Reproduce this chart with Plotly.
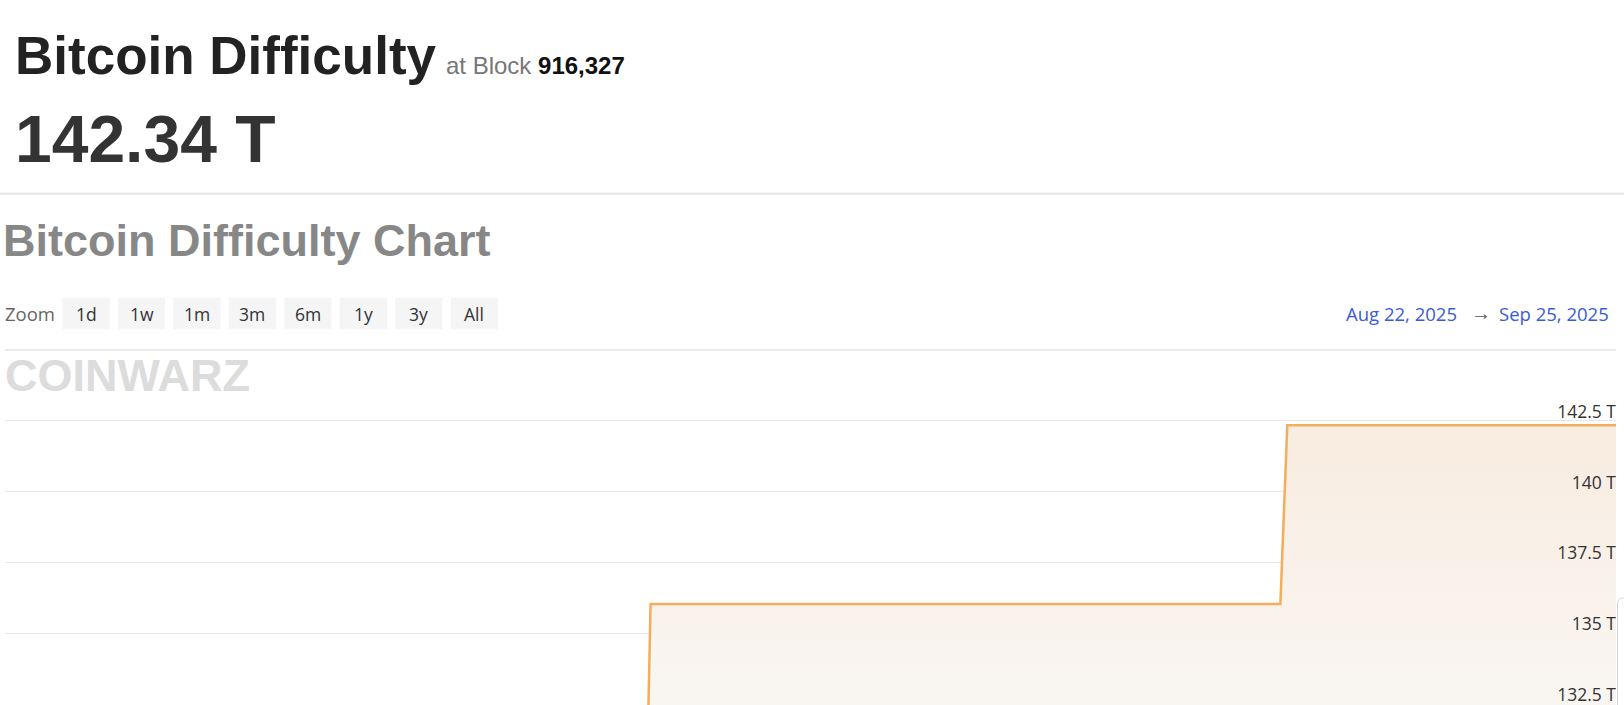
import plotly.graph_objects as go

W, H = 1624, 705

# ---------------- data ----------------
dates = ["2025-08-22 00:00", "2025-09-04 13:00", "2025-09-04 15:00",
         "2025-09-17 22:00", "2025-09-18 01:30", "2025-09-25 00:00"]
difficulty_t = [129.44, 129.44, 136.04, 136.04, 142.34, 142.34]
x_range = ["2025-08-22 00:00", "2025-09-25 00:00"]
y_tick_values = [132.5, 135, 137.5, 140, 142.5]
y_tick_labels = ["132.5 T", "135 T", "137.5 T", "140 T", "142.5 T"]
zoom_buttons = ["1d", "1w", "1m", "3m", "6m", "1y", "3y", "All"]
current_difficulty = "142.34 T"
block_height = "916,327"
range_start_label = "Aug 22, 2025"
range_end_label = "Sep 25, 2025"

# ---------------- helpers (pixel -> paper) ----------------
def px(x):
    return x / W


def py(y):
    return 1 - y / H


annotations = []
shapes = []


def txt(text, x, y, size, color, family="Open Sans", xanchor="left", yanchor="middle"):
    annotations.append(dict(
        text=text, x=px(x), y=py(y), xref="paper", yref="paper",
        xanchor=xanchor, yanchor=yanchor, showarrow=False,
        font=dict(size=size, color=color, family=family)))


# header
txt("<b>Bitcoin Difficulty</b>", 13, 55, 53, "#222222", "Liberation Sans, Arial")
txt("at Block <span style='color:#111111'><b>" + block_height + "</b></span>",
    444, 65, 24, "#777777", "Liberation Sans, Arial")
txt("<b>" + current_difficulty + "</b>", 13, 139, 66, "#333333", "Liberation Sans, Arial")

# separators
shapes.append(dict(type="line", xref="paper", yref="paper", x0=0, x1=1,
                   y0=py(193.7), y1=py(193.7), line=dict(color="#e6e6e6", width=2)))
shapes.append(dict(type="line", xref="paper", yref="paper", x0=px(5), x1=px(1616),
                   y0=py(350), y1=py(350), line=dict(color="#e3e3e3", width=1.5)))

# chart title
txt("<b>Bitcoin Difficulty Chart</b>", 1, 240, 45, "#878787", "Liberation Sans, Arial")

# zoom row
txt("Zoom", 3, 313, 18.5, "#666666")
btn_left0, btn_pitch, btn_w = 62.5, 55.45, 47.2
btn_top, btn_bot = 297.7, 329.3
for i, lab in enumerate(zoom_buttons):
    x0 = btn_left0 + i * btn_pitch
    shapes.append(dict(type="rect", xref="paper", yref="paper",
                       x0=px(x0), x1=px(x0 + btn_w), y0=py(btn_bot), y1=py(btn_top),
                       fillcolor="#f5f5f5", line=dict(width=0), layer="below"))
    txt(lab, x0 + btn_w / 2, 313.5, 17.5, "#333333", xanchor="center")

# date range
txt(range_start_label, 1459, 313, 18.5, "#3b5bd6", xanchor="right")
txt("\u2192", 1481, 312, 20, "#555555", xanchor="center")
txt(range_end_label, 1611, 313, 18.5, "#3b5bd6", xanchor="right")

# watermark
txt("<b>COINWARZ</b>", 3, 375, 45, "#dcdcdc", "Liberation Sans, Arial")

# right-edge scroller outline
shapes.append(dict(type="path", xref="paper", yref="paper",
                   path="M %f,%f L %f,%f Q %f,%f %f,%f L %f,%f" % (
                       px(1617.5), py(720), px(1617.5), py(604),
                       px(1617.5), py(598), px(1623), py(598), px(1640), py(598)),
                   line=dict(color="#d4d4d4", width=1)))

# ---------------- figure ----------------
fig = go.Figure()
fig.add_trace(go.Scatter(
    x=dates, y=difficulty_t, mode="lines",
    line=dict(color="#f2ae5c", width=2.5),
    fill="tozeroy",
    fillgradient=dict(type="vertical",
                      colorscale=[[0, "rgb(249,246,242)"], [1, "rgb(249,236,224)"]],
                      start=132.5, stop=142.34),
    hoverinfo="skip", showlegend=False))

fig.update_layout(
    width=W, height=H,
    margin=dict(l=0, r=0, t=0, b=0, pad=0),
    paper_bgcolor="white", plot_bgcolor="white",
    showlegend=False,
    xaxis=dict(type="date", domain=[px(5), px(1616)], range=x_range,
               visible=False, fixedrange=True),
    yaxis=dict(domain=[0, py(360)], range=[132.4824, 144.639], side="right",
               tickvals=y_tick_values, ticktext=y_tick_labels,
               ticklabelposition="inside top", ticklabeloverflow="allow",
               ticklabelshift=3, ticklabelstandoff=-3,
               showgrid=True, gridcolor="#e6e6e6", gridwidth=1,
               zeroline=False, showline=False, ticks="",
               tickfont=dict(family="Open Sans", size=17.5, color="#333333"),
               fixedrange=True),
    annotations=annotations,
    shapes=shapes,
)

fig.write_html("out.html", config={"displayModeBar": False},
               post_script=("document.documentElement.style.overflow='hidden';"
                            "document.body.style.margin='0';"
                            "document.body.style.overflow='hidden';"
                            "window.scrollTo(0,0);"))
